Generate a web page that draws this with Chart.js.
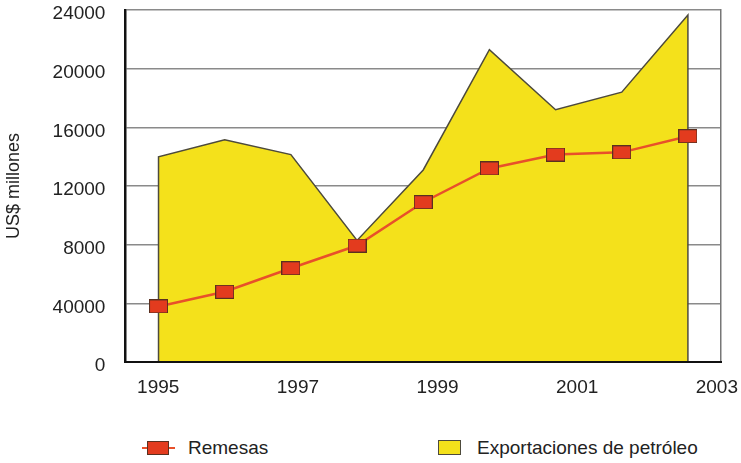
<!DOCTYPE html>
<html>
<head>
<meta charset="utf-8">
<script src="https://cdn.jsdelivr.net/npm/chart.js@4.4.1/dist/chart.umd.min.js"></script>
<style>
  body { margin: 0; background: #fff; font-family: 'Liberation Sans', sans-serif; color: #222; }
  #wrap { position: relative; width: 741px; height: 463px; }
  #chart-box { position: absolute; left: 0; top: 0; width: 741px; height: 413px; }
  .lg { position: absolute; top: 436px; height: 24px; font-size: 19px; line-height: 24px; }
  .lg-line { position: absolute; left: 0; top: 11px; width: 33px; height: 2px; background: #e8502a; }
  .lg-mark { position: absolute; top: 5px; width: 20px; height: 12px; border: 1px solid #5a3020; }
</style>
</head>
<body>
<div id="wrap">
  <div id="chart-box"><canvas id="c"></canvas></div>
  <div class="lg" style="left:142px;width:130px;">
    <span class="lg-line"></span>
    <span class="lg-mark" style="left:5px;background:#e33b1e;"></span>
    <span style="position:absolute;left:46px;top:0;">Remesas</span>
  </div>
  <div class="lg" style="left:438px;width:300px;">
    <span class="lg-mark" style="left:0;top:4px;width:21px;height:13px;background:#f4e11b;border-color:#4d4a3c;"></span>
    <span style="position:absolute;left:39px;top:0;white-space:nowrap;">Exportaciones de petróleo</span>
  </div>
</div>
<script>
// datos (US$ millones)
const years = [1995, 1996, 1997, 1998, 1999, 2000, 2001, 2002, 2003];
const remesas = [3800, 4800, 6400, 7950, 10900, 13200, 14150, 14300, 15400];
const exportaciones = [14000, 15150, 14150, 8300, 13100, 21300, 17200, 18400, 23650];
const yearTicks = [1995, 1997, 1999, 2001, 2003];
const yTickLabels = ['0', '40000', '8000', '12000', '16000', '20000', '24000'];

(function () {
  const last = years.length - 1;
  const remesasPts = remesas.map((v, i) => ({ x: i, y: v }));
  // el área baja en vertical hasta 0 en los extremos
  const areaPts = [{ x: 0, y: 0 }]
    .concat(exportaciones.map((v, i) => ({ x: i, y: v })))
    .concat([{ x: last, y: 0 }]);

  // marcador rectangular de Remesas
  const mk = document.createElement('canvas');
  mk.width = 19;
  mk.height = 14;
  const mctx = mk.getContext('2d');
  mctx.fillStyle = '#e33b1e';
  mctx.fillRect(0.5, 0.5, 18, 13);
  mctx.strokeStyle = '#5a3020';
  mctx.lineWidth = 1;
  mctx.strokeRect(0.5, 0.5, 18, 13);

  const tickFont = { family: "'Liberation Sans', sans-serif", size: 19 };

  new Chart(document.getElementById('c'), {
    type: 'line',
    data: {
      datasets: [
        {
          label: 'Remesas',
          data: remesasPts,
          borderColor: '#e8502a',
          borderWidth: 2.5,
          pointStyle: mk,
          pointRadius: 8,
          fill: false,
          order: 0,
          xAxisID: 'x',
          yAxisID: 'y',
        },
        {
          label: 'Exportaciones de petróleo',
          data: areaPts,
          borderColor: '#4d4a3c',
          borderWidth: 1.5,
          backgroundColor: '#f4e11b',
          pointRadius: 0,
          fill: 'origin',
          tension: 0,
          order: 1,
          xAxisID: 'x',
          yAxisID: 'y',
        },
      ],
    },
    options: {
      responsive: true,
      maintainAspectRatio: false,
      animation: false,
      layout: { autoPadding: false, padding: { top: 0, right: 20, left: 3, bottom: 0 } },
      plugins: { legend: { display: false }, tooltip: { enabled: false } },
      scales: {
        x: {
          type: 'linear',
          display: false,
          min: -0.5,
          max: last + 0.5,
        },
        xYears: {
          type: 'linear',
          position: 'bottom',
          min: 1994.53,
          max: 2003.06,
          afterBuildTicks: (s) => {
            s.ticks = yearTicks.map((v) => ({ value: v }));
          },
          // sin reservar margen lateral para las etiquetas
          afterFit: (s) => {
            s.paddingLeft = 0;
            s.paddingRight = 0;
          },
          ticks: { font: tickFont, color: '#222', padding: 14, maxRotation: 0, callback: (v) => String(v) },
          grid: { display: false, drawTicks: false },
          border: { display: true, color: '#111', width: 2, z: 1 },
        },
        y: {
          min: 0,
          max: 24000,
          // el padding de las marcas se sumaría arriba y abajo
          afterFit: (s) => {
            s.paddingTop = 10;
            s.paddingBottom = 10;
          },
          ticks: {
            stepSize: 4000,
            font: tickFont,
            color: '#222',
            padding: 20,
            labelOffset: 4,
            callback: (v, i) => yTickLabels[i],
          },
          grid: { color: '#8a8a8a', lineWidth: 1.5, drawTicks: false },
          border: { display: true, color: '#111', width: 2.5, z: 1 },
          title: {
            display: true,
            text: 'US$ millones',
            font: { family: "'Liberation Sans', sans-serif", size: 18 },
            color: '#222',
            padding: { top: 0, bottom: 8 },
          },
        },
        yRight: {
          position: 'right',
          min: 0,
          max: 24000,
          afterFit: (s) => {
            s.paddingTop = 0;
            s.paddingBottom = 0;
          },
          ticks: { display: false },
          grid: { display: false, drawTicks: false },
          border: { display: true, color: '#777', width: 1.5 },
        },
      },
    },
  });
})();
</script>
</body>
</html>
